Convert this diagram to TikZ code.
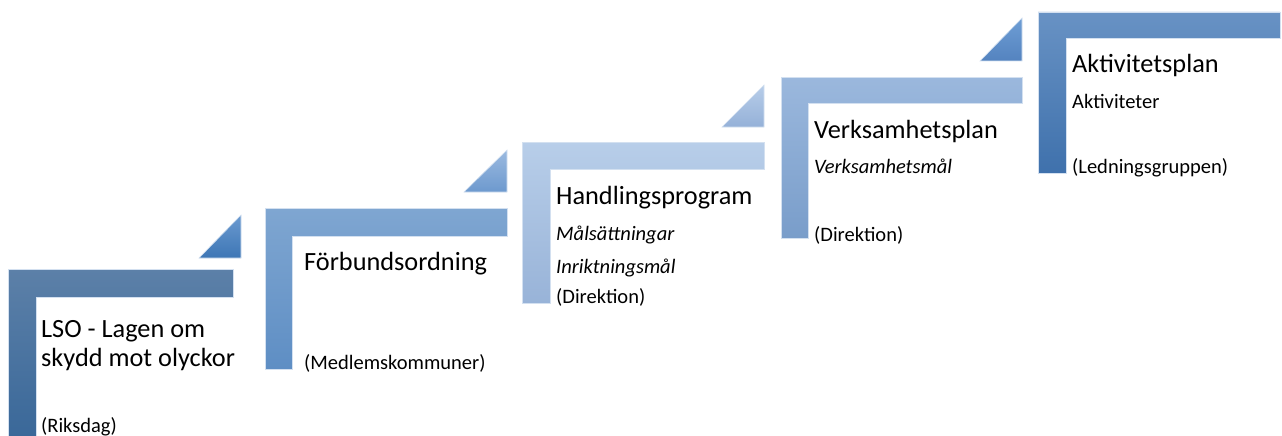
\documentclass[tikz,border=0pt]{standalone}
\usepackage{fontspec}
\setmainfont{Carlito}
\usepackage{xcolor}
\usepackage{tikz}

\definecolor{stepAtop}{HTML}{5C80A8}
\definecolor{stepAbot}{HTML}{3A6899}
\definecolor{stepBtop}{HTML}{7FA6D1}
\definecolor{stepBbot}{HTML}{5E8EC4}
\definecolor{stepCtop}{HTML}{B8CEE9}
\definecolor{stepCbot}{HTML}{98B3D8}
\definecolor{stepDtop}{HTML}{9BB8DD}
\definecolor{stepDbot}{HTML}{799DCA}
\definecolor{stepEtop}{HTML}{6892C4}
\definecolor{stepEbot}{HTML}{3F71AC}
\definecolor{cornAtop}{HTML}{6A9AD0}
\definecolor{cornAbot}{HTML}{3E76B5}
\definecolor{cornBtop}{HTML}{9BBAE0}
\definecolor{cornBbot}{HTML}{6D99CE}
\definecolor{cornCtop}{HTML}{B7CDE9}
\definecolor{cornCbot}{HTML}{95B1D8}
\definecolor{cornDtop}{HTML}{6E9ED5}
\definecolor{cornDbot}{HTML}{5483BF}
\definecolor{rim}{HTML}{D3E0F0}

\tikzset{
    titletext/.style={anchor=base west, inner sep=0pt, font=\fontsize{26.3}{30}\selectfont},
    subtext/.style={anchor=base west, inner sep=0pt, font=\fontsize{20.5}{24}\selectfont},
    edge/.style={draw=rim, line width=0.6pt},
}

\begin{document}
\begin{tikzpicture}[x=1pt, y=-1pt]
    \useasboundingbox (0,0) rectangle (1282,436);
    % step 1
    \shade[edge, top color=stepAtop, bottom color=stepAbot] (8,269) -- (233,269) -- (233,297) -- (36,297) -- (36,437) -- (8,437) -- cycle;
    \shade[edge, top color=cornAtop, bottom color=cornAbot] (199,258) -- (241,258) -- (241,215) -- cycle;
    \node[titletext] (lsoA) at (41,337) {LSO - Lagen om};
    \node[titletext] (lsoB) at (41,366) {skydd mot olyckor};
    \node[subtext] (riksdag) at (41,432) {(Riksdag)};
    % step 2
    \shade[edge, top color=stepBtop, bottom color=stepBbot] (265,208) -- (507,208) -- (507,236) -- (292,236) -- (292,369) -- (265,369) -- cycle;
    \shade[edge, top color=cornBtop, bottom color=cornBbot] (464,192) -- (507,192) -- (507,150) -- cycle;
    \node[titletext] (forbund) at (304,270) {Förbundsordning};
    \node[subtext] (medlem) at (304,369) {(Medlemskommuner)};
    % step 3
    \shade[edge, top color=stepCtop, bottom color=stepCbot] (522,142) -- (764,142) -- (764,169) -- (550,169) -- (550,303) -- (522,303) -- cycle;
    \shade[edge, top color=cornCtop, bottom color=cornCbot] (722,127) -- (764,127) -- (764,85) -- cycle;
    \node[titletext] (handling) at (556,204) {Handlingsprogram};
    \node[subtext] (malsatt) at (556,240) {\itshape Målsättningar};
    \node[subtext] (inrikt) at (556,273) {\itshape Inriktningsmål};
    \node[subtext] (direktionA) at (556,303) {(Direktion)};
    % step 4
    \shade[edge, top color=stepDtop, bottom color=stepDbot] (781,77) -- (1022,77) -- (1022,103) -- (808,103) -- (808,238) -- (781,238) -- cycle;
    \shade[edge, top color=cornDtop, bottom color=cornDbot] (980,61) -- (1022,61) -- (1022,18) -- cycle;
    \node[titletext] (verksplan) at (814,138) {Verksamhetsplan};
    \node[subtext] (verksmal) at (814,173) {\itshape Verksamhetsmål};
    \node[subtext] (direktionB) at (814,241) {(Direktion)};
    % step 5
    \shade[edge, top color=stepEtop, bottom color=stepEbot] (1038,12) -- (1280,12) -- (1280,38) -- (1066,38) -- (1066,173) -- (1038,173) -- cycle;
    \node[titletext] (aktplan) at (1072,73) {Aktivitetsplan};
    \node[subtext] (aktiv) at (1072,108) {Aktiviteter};
    \node[subtext] (ledning) at (1072,173) {(Ledningsgruppen)};
\end{tikzpicture}
\end{document}
